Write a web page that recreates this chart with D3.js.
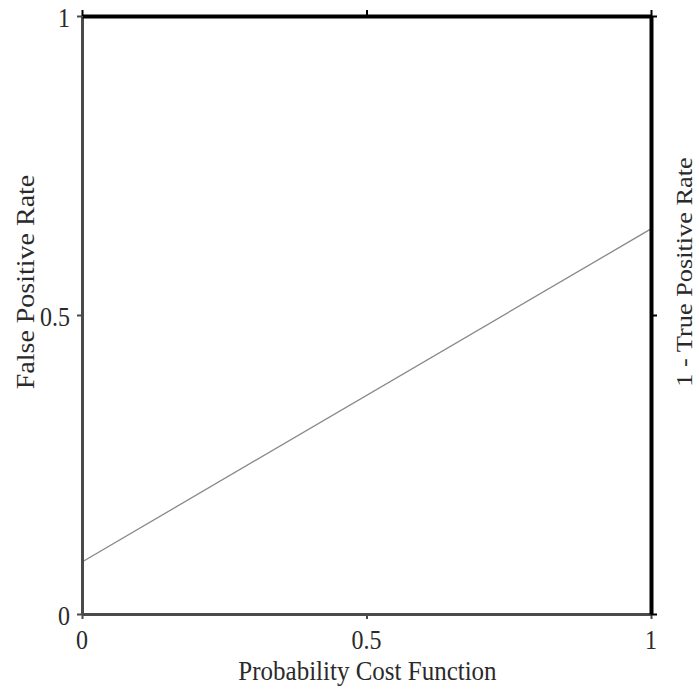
<!DOCTYPE html>
<html><head><meta charset="utf-8">
<script src="https://cdn.jsdelivr.net/npm/d3@7"></script>
<style>body{margin:0;background:#fff}text{font-family:"Liberation Serif","Times New Roman",serif;fill:#2a2a2a}</style>
</head><body><svg id="c" width="699" height="691"></svg>
<script>
const xTicks = [0, 0.5, 1];
const xTickLabels = ["0", "0.5", "1"];
const yTicks = [0, 0.5, 1];
const yTickLabels = ["0", "0.5", "1"];
const costX = [0, 1];
const costY = [0.087, 0.644];
const xTitle = "Probability Cost Function";
const yTitleLeft = "False Positive Rate";
const yTitleRight = "1 - True Positive Rate";

const svg = d3.select("#c");
const L = 82, R = 651, T = 16, B = 614;
const SY = 1.12; // vertical stretch of the text
const x = d3.scaleLinear().domain([0, 1]).range([L, R]);
const y = d3.scaleLinear().domain([0, 1]).range([B, T]);

// cost line
svg.append("path")
  .datum(costX.map((v, i) => [v, costY[i]]))
  .attr("fill", "none").attr("stroke", "#888").attr("stroke-width", 1.3)
  .attr("d", d3.line().x(d => x(d[0])).y(d => y(d[1])));

function styleAxis(g, color, w) {
  g.select(".domain").attr("stroke", color).attr("stroke-width", w);
  g.selectAll(".tick line").attr("stroke", color).attr("stroke-width", 2);
}

const gBottom = svg.append("g").attr("transform", `translate(0,${B})`)
  .call(d3.axisBottom(x).tickValues(xTicks).tickFormat("").tickSizeOuter(0).tickSizeInner(5));
styleAxis(gBottom, "#4a4a4a", 3);

const gLeft = svg.append("g").attr("transform", `translate(${L},0)`)
  .call(d3.axisLeft(y).tickValues(yTicks).tickFormat("").tickSizeOuter(0).tickSizeInner(5));
styleAxis(gLeft, "#4a4a4a", 3);

const gTop = svg.append("g").attr("transform", `translate(0,${T})`)
  .call(d3.axisTop(x).tickValues(xTicks).tickFormat("").tickSizeOuter(0).tickSizeInner(6));
styleAxis(gTop, "#000", 4);

const gRight = svg.append("g").attr("transform", `translate(${R},0)`)
  .call(d3.axisRight(y).tickValues(yTicks).tickFormat("").tickSizeOuter(0).tickSizeInner(6));
styleAxis(gRight, "#000", 4);

// tick labels
svg.append("g").selectAll("text").data(xTicks).join("text")
  .attr("transform", d => `translate(${x(d)},649) scale(1,${SY})`)
  .attr("text-anchor", "middle").style("font-size", "24px")
  .text((d, i) => xTickLabels[i]);
svg.append("g").selectAll("text").data(yTicks).join("text")
  .attr("transform", d => `translate(70,${y(d) + 11}) scale(1,${SY})`)
  .attr("text-anchor", "end").style("font-size", "24px")
  .text((d, i) => yTickLabels[i]);

// titles
svg.append("text").attr("transform", `translate(${(L + R) / 2 + 1},680) scale(1,${SY})`)
  .attr("text-anchor", "middle").style("font-size", "25px").text(xTitle);
svg.append("text").attr("transform", `translate(34,282) scale(1,${SY}) rotate(-90)`)
  .attr("text-anchor", "middle").style("font-size", "25px").text(yTitleLeft);
svg.append("text").attr("transform", `translate(692,272) scale(1,${SY}) rotate(-90)`)
  .attr("text-anchor", "middle").style("font-size", "23.5px").text(yTitleRight);
</script></body></html>
